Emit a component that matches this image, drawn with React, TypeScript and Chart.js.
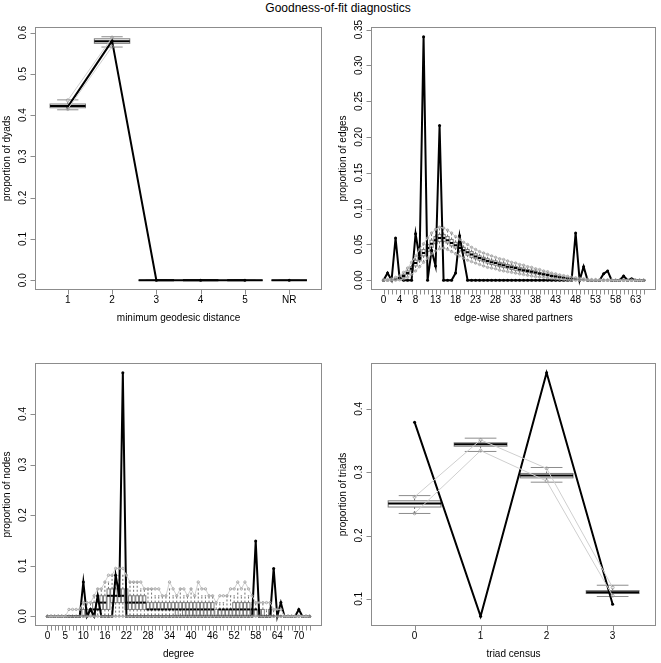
import React, { useEffect, useRef } from "react";
import { Chart, registerables } from "chart.js";

Chart.register(...registerables);

const PAGE_W = 661;
const PAGE_H = 663;
const FONT = '"Liberation Sans", Arial, Helvetica, sans-serif';
const FRAME = "#8c8c8c";

// ---------------- Panel 1: minimum geodesic distance ----------------
const geoPositions = [1, 2, 3, 4, 5, 6];
const geoCategories = ["1", "2", "3", "4", "5", "NR"];
const geoObserved = [0.42, 0.58, 0, 0, 0, 0];
const geoQ1 = [0.418, 0.574, 0, 0, 0, 0];
const geoMed = [0.422, 0.579, 0, 0, 0, 0];
const geoQ3 = [0.427, 0.585, 0, 0, 0, 0];
const geoLo = [0.413, 0.565, 0, 0, 0, 0];
const geoHi = [0.437, 0.59, 0, 0, 0, 0];
const geoLowerQ = [0.415, 0.566];
const geoUpperQ = [0.436, 0.588];
const geoYTicks = [0, 0.1, 0.2, 0.3, 0.4, 0.5, 0.6];

// ---------------- Panel 2: edge-wise shared partners ----------------
const espCategories = [
  0, 1, 2, 3, 4, 5, 6, 7, 8, 9, 10, 11, 12, 13, 14, 15, 16, 17, 18, 19, 20, 21,
  22, 23, 24, 25, 26, 27, 28, 29, 30, 31, 32, 33, 34, 35, 36, 37, 38, 39, 40, 41,
  42, 43, 44, 45, 46, 47, 48, 49, 50, 51, 52, 53, 54, 55, 56, 57, 58, 59, 60, 61,
  62, 63, 64, 65,
];
const espObserved = [
  0, 0.0102, 0, 0.059, 0.003, 0, 0, 0, 0.065, 0.03,
  0.34, 0, 0.042, 0.02, 0.216, 0, 0, 0, 0.01, 0.062,
  0.031, 0, 0, 0, 0, 0, 0, 0, 0, 0,
  0, 0, 0, 0, 0, 0, 0, 0, 0, 0,
  0, 0, 0, 0, 0, 0, 0, 0, 0.066, 0,
  0.019, 0, 0, 0, 0, 0.009, 0.013, 0, 0, 0,
  0.006, 0, 0.002, 0, 0, 0,
];
const espMed = [
  0, 0, 0.001, 0.001, 0.003, 0.006, 0.01, 0.016, 0.024, 0.031,
  0.038, 0.045, 0.051, 0.056, 0.059, 0.059, 0.056, 0.052, 0.049, 0.045,
  0.042, 0.039, 0.036, 0.033, 0.031, 0.029, 0.027, 0.025, 0.024, 0.022,
  0.021, 0.019, 0.018, 0.017, 0.015, 0.014, 0.013, 0.012, 0.011, 0.0095,
  0.0083, 0.0072, 0.0061, 0.0051, 0.0042, 0.0034, 0.0026, 0.002, 0.0014, 0.001,
  0.0007, 0.0005, 0.0003, 0.0002, 0.0001, 0, 0, 0, 0, 0,
  0, 0, 0, 0, 0, 0,
];
const espQ1 = [
  0, 0, 0, 0.0005, 0.002, 0.004, 0.008, 0.013, 0.02, 0.027,
  0.034, 0.04, 0.046, 0.051, 0.054, 0.054, 0.052, 0.048, 0.045, 0.041,
  0.038, 0.035, 0.032, 0.03, 0.028, 0.026, 0.024, 0.022, 0.021, 0.019,
  0.018, 0.017, 0.015, 0.014, 0.013, 0.012, 0.011, 0.01, 0.009, 0.008,
  0.007, 0.006, 0.005, 0.004, 0.0033, 0.0026, 0.002, 0.0014, 0.001, 0.0006,
  0.0004, 0.0002, 0.0001, 0, 0, 0, 0, 0, 0, 0,
  0, 0, 0, 0, 0, 0,
];
const espQ3 = [
  0, 0, 0.001, 0.002, 0.004, 0.008, 0.013, 0.019, 0.028, 0.035,
  0.043, 0.05, 0.056, 0.061, 0.064, 0.064, 0.061, 0.057, 0.053, 0.049,
  0.046, 0.043, 0.04, 0.037, 0.034, 0.032, 0.03, 0.028, 0.027, 0.025,
  0.024, 0.022, 0.021, 0.019, 0.018, 0.017, 0.015, 0.014, 0.013, 0.011,
  0.01, 0.009, 0.0075, 0.0065, 0.0053, 0.0043, 0.0034, 0.0027, 0.002, 0.0015,
  0.001, 0.0008, 0.0005, 0.0004, 0.0003, 0, 0, 0, 0, 0,
  0, 0, 0, 0, 0, 0,
];
const espLo = [
  0, 0, 0, 0, 0.0005, 0.002, 0.004, 0.008, 0.013, 0.019,
  0.025, 0.031, 0.037, 0.041, 0.044, 0.045, 0.043, 0.04, 0.037, 0.034,
  0.031, 0.028, 0.026, 0.024, 0.022, 0.02, 0.018, 0.017, 0.016, 0.014,
  0.013, 0.012, 0.011, 0.01, 0.009, 0.008, 0.007, 0.006, 0.005, 0.0045,
  0.004, 0.003, 0.0025, 0.002, 0.0015, 0.001, 0.0005, 0.0003, 0, 0,
  0, 0, 0, 0, 0, 0, 0, 0, 0, 0,
  0, 0, 0, 0, 0, 0,
];
const espHi = [
  0.001, 0.001, 0.002, 0.004, 0.006, 0.011, 0.017, 0.025, 0.034, 0.043,
  0.051, 0.059, 0.066, 0.071, 0.074, 0.073, 0.07, 0.066, 0.061, 0.057,
  0.053, 0.05, 0.046, 0.043, 0.04, 0.038, 0.036, 0.034, 0.032, 0.03,
  0.029, 0.027, 0.025, 0.024, 0.022, 0.021, 0.019, 0.018, 0.016, 0.015,
  0.013, 0.012, 0.01, 0.009, 0.0075, 0.0065, 0.0055, 0.0045, 0.0035, 0.0028,
  0.002, 0.0015, 0.001, 0.001, 0.0008, 0.0005, 0.0005, 0.0005, 0, 0,
  0, 0, 0, 0, 0, 0,
];
const espLabelAt = [0, 4, 8, 13, 18, 23, 28, 33, 38, 43, 48, 53, 58, 63];
const espYTicks = [0, 0.05, 0.1, 0.15, 0.2, 0.25, 0.3, 0.35];

// ---------------- Panel 3: degree ----------------
const degCategories = [
  0, 1, 2, 3, 4, 5, 6, 7, 8, 9, 10, 11, 12, 13, 14, 15, 16, 17, 18, 19, 20, 21,
  22, 23, 24, 25, 26, 27, 28, 29, 30, 31, 32, 33, 34, 35, 36, 37, 38, 39, 40, 41,
  42, 43, 44, 45, 46, 47, 48, 49, 50, 51, 52, 53, 54, 55, 56, 57, 58, 59, 60, 61,
  62, 63, 64, 65, 66, 67, 68, 69, 70, 71, 72, 73,
];
const degObserved = [
  0, 0, 0, 0, 0, 0, 0, 0, 0, 0,
  0.0676, 0, 0.0135, 0, 0.0405, 0, 0, 0, 0, 0.0811,
  0.0405, 0.4815, 0, 0, 0, 0, 0, 0, 0, 0,
  0, 0, 0, 0, 0, 0, 0, 0, 0, 0,
  0, 0, 0, 0, 0, 0, 0, 0, 0, 0,
  0, 0, 0, 0, 0, 0, 0, 0, 0.1486, 0,
  0, 0, 0, 0.0946, 0, 0.027, 0, 0, 0, 0,
  0.0135, 0, 0, 0,
];
const degQ1 = [
  0, 0, 0, 0, 0, 0, 0, 0, 0, 0,
  0, 0, 0, 0, 0.0135, 0.0135, 0.0135, 0.0135, 0.027, 0.027,
  0.027, 0.027, 0.0135, 0.0135, 0.0135, 0.0135, 0.0135, 0.0135, 0.0135, 0.0135,
  0.0135, 0.0135, 0.0135, 0.0135, 0.0135, 0.0135, 0, 0.0135, 0, 0,
  0, 0, 0, 0, 0, 0, 0, 0, 0, 0,
  0, 0, 0, 0, 0, 0, 0, 0, 0, 0,
  0, 0, 0, 0, 0, 0, 0, 0, 0, 0,
  0, 0, 0, 0,
];
const degMed = [
  0, 0, 0, 0, 0, 0, 0, 0, 0, 0,
  0, 0, 0.0135, 0.0135, 0.0135, 0.027, 0.027, 0.0405, 0.0405, 0.0405,
  0.0405, 0.0405, 0.027, 0.027, 0.027, 0.027, 0.027, 0.027, 0.0135, 0.0135,
  0.0135, 0.0135, 0.0135, 0.0135, 0.0135, 0.0135, 0.0135, 0.0135, 0.0135, 0.0135,
  0.0135, 0.0135, 0.0135, 0.0135, 0.0135, 0.0135, 0.0135, 0, 0.0135, 0.0135,
  0.0135, 0.0135, 0.0135, 0.0135, 0.0135, 0.0135, 0.0135, 0.0135, 0.0135, 0,
  0, 0, 0, 0, 0, 0, 0, 0, 0, 0,
  0, 0, 0, 0,
];
const degQ3 = [
  0, 0, 0, 0, 0, 0, 0, 0, 0, 0,
  0.0135, 0.0135, 0.0135, 0.027, 0.027, 0.0405, 0.0405, 0.0541, 0.0541, 0.0541,
  0.0541, 0.0541, 0.0541, 0.0405, 0.0405, 0.0405, 0.0405, 0.0405, 0.027, 0.027,
  0.027, 0.027, 0.027, 0.027, 0.027, 0.027, 0.027, 0.027, 0.027, 0.027,
  0.027, 0.027, 0.027, 0.027, 0.027, 0.027, 0.027, 0.0135, 0.0135, 0.0135,
  0.0135, 0.0135, 0.027, 0.027, 0.027, 0.027, 0.027, 0.0135, 0.0135, 0.0135,
  0.0135, 0, 0.0135, 0, 0, 0, 0, 0, 0, 0,
  0, 0, 0, 0,
];
const degLo = [
  0, 0, 0, 0, 0, 0, 0, 0, 0, 0,
  0, 0, 0, 0, 0, 0, 0, 0, 0, 0,
  0, 0, 0, 0, 0, 0, 0, 0, 0, 0,
  0, 0, 0, 0, 0, 0, 0, 0, 0, 0,
  0, 0, 0, 0, 0, 0, 0, 0, 0, 0,
  0, 0, 0, 0, 0, 0, 0, 0, 0, 0,
  0, 0, 0, 0, 0, 0, 0, 0, 0, 0,
  0, 0, 0, 0,
];
const degHi = [
  0, 0, 0, 0, 0, 0, 0, 0, 0, 0.0135,
  0.027, 0.027, 0.027, 0.0405, 0.0541, 0.0541, 0.0676, 0.0676, 0.0811, 0.0811,
  0.0811, 0.0811, 0.0811, 0.0676, 0.0676, 0.0676, 0.0541, 0.0541, 0.0541, 0.0541,
  0.0405, 0.0405, 0.0405, 0.0405, 0.0541, 0.0405, 0.0405, 0.0541, 0.0405, 0.0405,
  0.0541, 0.0405, 0.0541, 0.0405, 0.0405, 0.0405, 0.0405, 0.027, 0.027, 0.027,
  0.0405, 0.0405, 0.0405, 0.0541, 0.0405, 0.0541, 0.0405, 0.027, 0.027, 0.027,
  0.027, 0.0135, 0.027, 0.0135, 0.0135, 0, 0, 0, 0, 0,
  0, 0, 0, 0,
];
const degUpperQ = [
  0, 0, 0, 0, 0, 0, 0.0135, 0.0135, 0.0135, 0.0135,
  0.027, 0.027, 0.027, 0.0405, 0.0541, 0.0541, 0.0676, 0.0811, 0.0811, 0.0946,
  0.0946, 0.0946, 0.0811, 0.0676, 0.0676, 0.0676, 0.0676, 0.0541, 0.0541, 0.0541,
  0.0541, 0.0541, 0.0405, 0.0405, 0.0676, 0.0541, 0.0405, 0.0541, 0.0541, 0.0405,
  0.0541, 0.0405, 0.0676, 0.0541, 0.0541, 0.0405, 0.0405, 0.027, 0.0405, 0.0405,
  0.0405, 0.0541, 0.0541, 0.0676, 0.0541, 0.0676, 0.0541, 0.0405, 0.027, 0.027,
  0.027, 0.027, 0.027, 0.0135, 0.0135, 0.0135, 0, 0, 0, 0,
  0, 0, 0, 0,
];
const degLabelAt = [0, 5, 10, 16, 22, 28, 34, 40, 46, 52, 58, 64, 70];
const degYTicks = [0, 0.1, 0.2, 0.3, 0.4];

// ---------------- Panel 4: triad census ----------------
const triadCategories = [0, 1, 2, 3];
const triadObserved = [0.379, 0.0725, 0.457, 0.0915];
const triadQ1 = [0.245, 0.341, 0.291, 0.1084];
const triadMed = [0.2506, 0.344, 0.2948, 0.1105];
const triadQ3 = [0.2548, 0.3464, 0.298, 0.113];
const triadLo = [0.2348, 0.3327, 0.2842, 0.1037];
const triadHi = [0.263, 0.3537, 0.3074, 0.1215];
const triadLowerQ = [0.235, 0.334, 0.286, 0.105];
const triadUpperQ = [0.261, 0.351, 0.306, 0.118];
const triadYTicks = [0.1, 0.2, 0.3, 0.4];

// ---------------- panel definitions ----------------
type Series = { x: number[]; y: number[] };
type Panel = {
  box: { l: number; t: number; r: number; b: number };
  xMin: number; xMax: number; yMin: number; yMax: number;
  xTicks: number[]; xLabelAt: number[]; xLabelText: string[];
  yTicks: number[]; yDigits: number;
  xTitle: string; yTitle: string;
  bx: number[]; lo: number[]; q1: number[]; med: number[]; q3: number[]; hi: number[];
  capHalf: number;
  circleR: number;
  quant: Series[];
  observed: Series[];
};

const panels: Panel[] = [
  {
    box: { l: 35, t: 27, r: 322, b: 290 },
    xMin: 0.26, xMax: 6.74, yMin: -0.0236, yMax: 0.6136,
    xTicks: geoPositions, xLabelAt: geoPositions, xLabelText: geoCategories,
    yTicks: geoYTicks, yDigits: 1,
    xTitle: "minimum geodesic distance", yTitle: "proportion of dyads",
    bx: geoPositions, lo: geoLo, q1: geoQ1, med: geoMed, q3: geoQ3, hi: geoHi,
    capHalf: 0.24,
    circleR: 1.5,
    quant: [
      { x: geoPositions.slice(0, 2), y: geoLowerQ },
      { x: geoPositions.slice(0, 2), y: geoUpperQ },
    ],
    observed: [
      { x: geoPositions.slice(0, 5), y: geoObserved.slice(0, 5) },
      { x: geoPositions.slice(5), y: geoObserved.slice(5) },
    ],
  },
  {
    box: { l: 371, t: 27, r: 657, b: 290 },
    xMin: -3.14, xMax: 68.14, yMin: -0.0136, yMax: 0.3536,
    xTicks: espCategories, xLabelAt: espLabelAt, xLabelText: espLabelAt.map(String),
    yTicks: espYTicks, yDigits: 2,
    xTitle: "edge-wise shared partners", yTitle: "proportion of edges",
    bx: espCategories, lo: espLo, q1: espQ1, med: espMed, q3: espQ3, hi: espHi,
    capHalf: 0.2,
    circleR: 1.2,
    quant: [
      { x: espCategories, y: espLo },
      { x: espCategories, y: espHi },
    ],
    observed: [{ x: espCategories, y: espObserved }],
  },
  {
    box: { l: 35, t: 363, r: 322, b: 626 },
    xMin: -3.46, xMax: 76.46, yMin: -0.01926, yMax: 0.50076,
    xTicks: degCategories, xLabelAt: degLabelAt, xLabelText: degLabelAt.map(String),
    yTicks: degYTicks, yDigits: 1,
    xTitle: "degree", yTitle: "proportion of nodes",
    bx: degCategories, lo: degLo, q1: degQ1, med: degMed, q3: degQ3, hi: degHi,
    capHalf: 0.2,
    circleR: 1.2,
    quant: [
      { x: degCategories, y: degLo },
      { x: degCategories, y: degUpperQ },
    ],
    observed: [{ x: degCategories, y: degObserved }],
  },
  {
    box: { l: 371, t: 363, r: 657, b: 626 },
    xMin: -0.66, xMax: 3.66, yMin: 0.05712, yMax: 0.47238,
    xTicks: triadCategories, xLabelAt: triadCategories, xLabelText: triadCategories.map(String),
    yTicks: triadYTicks, yDigits: 1,
    xTitle: "triad census", yTitle: "proportion of triads",
    bx: triadCategories, lo: triadLo, q1: triadQ1, med: triadMed, q3: triadQ3, hi: triadHi,
    capHalf: 0.24,
    circleR: 1.5,
    quant: [
      { x: triadCategories, y: triadLowerQ },
      { x: triadCategories, y: triadUpperQ },
    ],
    observed: [{ x: triadCategories, y: triadObserved }],
  },
];

function makePlugin(p: Panel) {
  return {
    id: "rPanel",
    beforeDatasetsDraw(chart: any) {
      const { ctx, chartArea: ca } = chart;
      const xs = chart.scales.x;
      const ys = chart.scales.y;
      ctx.save();
      ctx.beginPath();
      ctx.rect(ca.left, ca.top, ca.right - ca.left, ca.bottom - ca.top);
      ctx.clip();
      for (let i = 0; i < p.bx.length; i++) {
        const v = p.bx[i];
        const xc = xs.getPixelForValue(v);
        const xl = xs.getPixelForValue(v - 0.4);
        const xr = xs.getPixelForValue(v + 0.4);
        const cl = xs.getPixelForValue(v - p.capHalf);
        const cr = xs.getPixelForValue(v + p.capHalf);
        const yLo = ys.getPixelForValue(p.lo[i]);
        const yQ1 = ys.getPixelForValue(p.q1[i]);
        const yMed = ys.getPixelForValue(p.med[i]);
        const yQ3 = ys.getPixelForValue(p.q3[i]);
        const yHi = ys.getPixelForValue(p.hi[i]);
        // whiskers (dashed)
        ctx.strokeStyle = "#707070";
        ctx.lineWidth = 1;
        ctx.setLineDash([2, 2]);
        ctx.beginPath();
        ctx.moveTo(xc, yQ3);
        ctx.lineTo(xc, yHi);
        ctx.moveTo(xc, yQ1);
        ctx.lineTo(xc, yLo);
        ctx.stroke();
        ctx.setLineDash([]);
        // staples
        ctx.strokeStyle = "#8c8c8c";
        ctx.beginPath();
        ctx.moveTo(cl, yHi);
        ctx.lineTo(cr, yHi);
        ctx.moveTo(cl, yLo);
        ctx.lineTo(cr, yLo);
        ctx.stroke();
        // box
        ctx.fillStyle = "#ffffff";
        ctx.fillRect(xl, yQ3, xr - xl, yQ1 - yQ3);
        ctx.strokeStyle = "#7a7a7a";
        ctx.strokeRect(xl, yQ3, xr - xl, yQ1 - yQ3);
        // median
        ctx.strokeStyle = "#000";
        ctx.lineWidth = 2;
        ctx.beginPath();
        ctx.moveTo(xl, yMed);
        ctx.lineTo(xr, yMed);
        ctx.stroke();
      }
      ctx.restore();
    },
    afterDraw(chart: any) {
      const { ctx, chartArea: ca } = chart;
      const xs = chart.scales.x;
      const ys = chart.scales.y;
      ctx.save();
      const L = Math.round(ca.left) + 0.5;
      const T = Math.round(ca.top) + 0.5;
      const R = Math.round(ca.right) - 0.5;
      const B = Math.round(ca.bottom) - 0.5;
      ctx.strokeStyle = FRAME;
      ctx.lineWidth = 1;
      ctx.strokeRect(L, T, R - L, B - T);
      ctx.beginPath();
      p.xTicks.forEach((v) => {
        const x = Math.round(xs.getPixelForValue(v)) + 0.5;
        ctx.moveTo(x, B);
        ctx.lineTo(x, B + 5);
      });
      p.yTicks.forEach((v) => {
        const y = Math.round(ys.getPixelForValue(v)) + 0.5;
        ctx.moveTo(L, y);
        ctx.lineTo(L - 5, y);
      });
      ctx.stroke();
      ctx.fillStyle = "#000";
      ctx.font = `10px ${FONT}`;
      ctx.textAlign = "center";
      ctx.textBaseline = "middle";
      p.xLabelAt.forEach((v, i) => {
        ctx.fillText(p.xLabelText[i], xs.getPixelForValue(v), B + 11);
      });
      p.yTicks.forEach((v) => {
        ctx.save();
        ctx.translate(L - 12, ys.getPixelForValue(v));
        ctx.rotate(-Math.PI / 2);
        ctx.fillText(v.toFixed(p.yDigits), 0, 0);
        ctx.restore();
      });
      ctx.fillText(p.xTitle, (L + R) / 2, B + 29);
      ctx.save();
      ctx.translate(L - 28, (T + B) / 2);
      ctx.rotate(-Math.PI / 2);
      ctx.fillText(p.yTitle, 0, 0);
      ctx.restore();
      ctx.restore();
    },
  };
}

function buildConfig(p: Panel): any {
  const datasets: any[] = [];
  p.quant.forEach((q) => {
    datasets.push({
      data: q.x.map((x, i) => ({ x, y: q.y[i] })),
      showLine: true,
      borderColor: "#cfcfcf",
      borderWidth: 1,
      pointRadius: p.circleR,
      pointStyle: "circle",
      pointBorderColor: "#9a9a9a",
      pointBackgroundColor: "rgba(0,0,0,0)",
      pointBorderWidth: 0.8,
      tension: 0,
    });
  });
  p.observed.forEach((o) => {
    datasets.push({
      data: o.x.map((x, i) => ({ x, y: o.y[i] })),
      showLine: true,
      borderColor: "#000",
      borderWidth: 2,
      pointRadius: 1.5,
      pointBorderWidth: 0,
      pointBackgroundColor: "#000",
      tension: 0,
    });
  });
  return {
    type: "scatter",
    data: { datasets },
    options: {
      responsive: false,
      animation: false,
      events: [],
      layout: {
        padding: {
          left: p.box.l,
          top: p.box.t,
          right: PAGE_W - p.box.r,
          bottom: PAGE_H - p.box.b,
        },
      },
      scales: {
        x: { type: "linear", min: p.xMin, max: p.xMax, display: false },
        y: { type: "linear", min: p.yMin, max: p.yMax, display: false },
      },
      plugins: {
        legend: { display: false },
        tooltip: { enabled: false },
        title: { display: false },
      },
    },
    plugins: [makePlugin(p)],
  };
}

export default function App() {
  const canvases = useRef<(HTMLCanvasElement | null)[]>([]);
  useEffect(() => {
    document.body.style.margin = "0";
    const charts = panels.map(
      (p, i) => new Chart(canvases.current[i] as HTMLCanvasElement, buildConfig(p))
    );
    return () => charts.forEach((c) => c.destroy());
  }, []);
  return (
    <div style={{ position: "relative", width: PAGE_W, height: PAGE_H, background: "#fff" }}>
      <div
        style={{
          position: "absolute",
          top: 1,
          left: 338,
          transform: "translateX(-50%)",
          whiteSpace: "nowrap",
          fontFamily: FONT,
          fontSize: 12,
          lineHeight: "14px",
          color: "#000",
        }}
      >
        Goodness-of-fit diagnostics
      </div>
      {panels.map((_, i) => (
        <canvas
          key={i}
          ref={(el) => {
            canvases.current[i] = el;
          }}
          width={PAGE_W}
          height={PAGE_H}
          style={{ position: "absolute", left: 0, top: 0 }}
        />
      ))}
    </div>
  );
}
